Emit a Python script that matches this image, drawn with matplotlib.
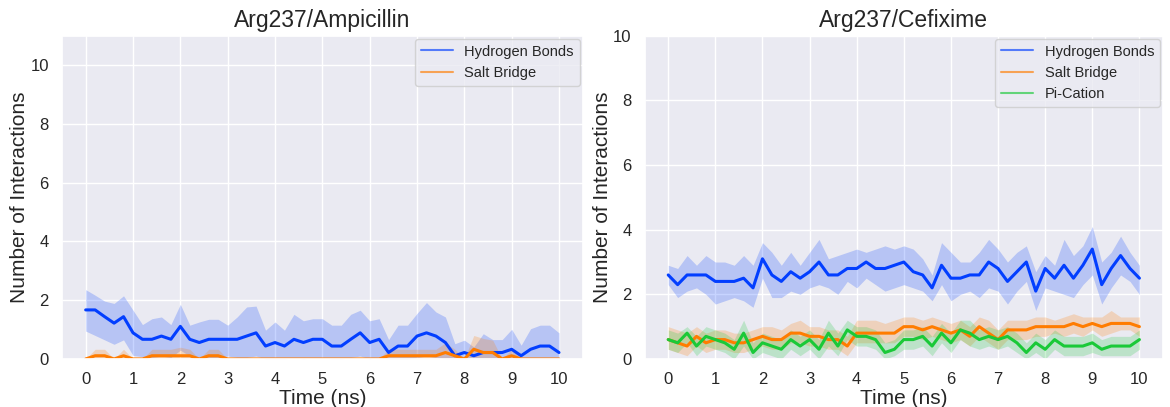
import numpy as np
import matplotlib.pyplot as plt
import seaborn as sns
from matplotlib.lines import Line2D

# time axis (ns), frames every 0.2 ns
time_ns = np.round(np.arange(0, 10.01, 0.2), 1)

# ---- Arg237 / Ampicillin ----
amp_hbond = [1.67, 1.67, 1.44, 1.22, 1.44, 0.89, 0.67, 0.67, 0.78, 0.67,
             1.11, 0.67, 0.56, 0.67, 0.67, 0.67, 0.67, 0.78, 0.89, 0.44,
             0.56, 0.44, 0.67, 0.56, 0.67, 0.67, 0.44, 0.44, 0.67, 0.89,
             0.56, 0.67, 0.22, 0.44, 0.44, 0.78, 0.89, 0.78, 0.56, 0.11,
             0.22, 0.11, 0.22, 0.22, 0.22, 0.33, 0.11, 0.33, 0.44, 0.44, 0.22]
amp_hbond_hi = [2.36, 2.17, 1.97, 1.89, 2.15, 1.66, 1.17, 1.37, 1.43, 1.17,
                1.86, 1.15, 1.26, 1.35, 1.35, 1.15, 1.43, 1.77, 1.80, 0.98,
                1.26, 0.98, 1.52, 1.30, 1.37, 1.37, 1.15, 1.15, 1.52, 1.66,
                1.30, 1.37, 0.66, 1.15, 1.15, 1.55, 1.92, 1.60, 1.43, 0.52,
                0.64, 0.41, 0.86, 0.66, 0.66, 1.01, 0.47, 1.03, 1.15, 1.15, 0.89]
amp_hbond_lo = [0.95, 0.80, 0.65, 0.50, 0.65, 0.12, 0.08, 0.05, 0.10, 0.05,
                0.30, 0.10, 0.00, 0.05, 0.05, 0.10, 0.05, 0.05, 0.10, 0.00,
                0.00, 0.00, 0.05, 0.00, 0.05, 0.05, 0.00, 0.00, 0.05, 0.10,
                0.00, 0.05, 0.00, 0.00, 0.00, 0.05, 0.10, 0.05, 0.00, 0.00,
                0.00, 0.00, 0.00, 0.00, 0.00, 0.00, 0.00, 0.00, 0.00, 0.00, 0.00]
amp_salt = [0.00, 0.11, 0.11, 0.00, 0.11, 0.00, 0.00, 0.11, 0.11, 0.11,
            0.11, 0.11, 0.00, 0.11, 0.11, 0.00, 0.00, 0.00, 0.00, 0.00,
            0.00, 0.00, 0.00, 0.00, 0.00, 0.00, 0.00, 0.00, 0.00, 0.00,
            0.00, 0.00, 0.11, 0.11, 0.11, 0.11, 0.11, 0.11, 0.22, 0.11,
            0.00, 0.33, 0.22, 0.22, 0.00, 0.11, 0.00, 0.00, 0.00, 0.00, 0.00]
amp_salt_hi = [0.00, 0.33, 0.33, 0.00, 0.33, 0.00, 0.00, 0.33, 0.33, 0.33,
               0.40, 0.33, 0.00, 0.33, 0.33, 0.00, 0.00, 0.00, 0.00, 0.00,
               0.00, 0.00, 0.00, 0.00, 0.00, 0.00, 0.00, 0.00, 0.00, 0.00,
               0.00, 0.00, 0.33, 0.33, 0.33, 0.33, 0.33, 0.33, 0.55, 0.33,
               0.00, 0.80, 0.70, 0.64, 0.00, 0.33, 0.00, 0.00, 0.00, 0.00, 0.00]
amp_salt_lo = [0.0] * 51

# ---- Arg237 / Cefixime ----
cef_hbond = [2.6, 2.3, 2.6, 2.6, 2.6, 2.4, 2.4, 2.4, 2.5, 2.2,
             3.1, 2.6, 2.4, 2.7, 2.5, 2.7, 3.0, 2.6, 2.6, 2.8,
             2.8, 3.0, 2.8, 2.8, 2.9, 3.0, 2.7, 2.6, 2.2, 2.9,
             2.5, 2.5, 2.6, 2.6, 3.0, 2.8, 2.4, 2.7, 3.0, 2.1,
             2.8, 2.5, 2.9, 2.5, 2.9, 3.4, 2.3, 2.8, 3.2, 2.8, 2.5]
cef_hbond_hi = [2.9, 2.8, 3.2, 2.9, 3.2, 3.0, 3.0, 2.9, 3.2, 2.9,
                3.6, 3.3, 2.9, 3.3, 2.9, 3.3, 3.7, 3.1, 3.2, 3.3,
                3.4, 3.3, 3.4, 3.5, 3.4, 3.5, 3.4, 3.1, 2.6, 3.6,
                3.3, 3.0, 3.0, 3.3, 3.7, 3.4, 3.0, 3.3, 3.5, 2.7,
                3.2, 2.9, 3.7, 3.2, 3.5, 4.1, 3.0, 3.3, 3.8, 3.3, 2.9]
cef_hbond_lo = [2.3, 1.9, 2.1, 2.2, 2.0, 1.7, 1.8, 1.9, 1.8, 1.6,
                2.5, 1.9, 1.9, 2.1, 2.0, 2.2, 2.3, 2.2, 2.0, 2.4,
                2.2, 2.5, 2.3, 2.1, 2.2, 2.3, 2.2, 2.1, 1.8, 2.3,
                1.8, 2.0, 2.1, 1.9, 2.2, 2.1, 1.7, 2.1, 2.4, 1.5,
                2.2, 2.1, 2.0, 1.9, 2.3, 2.6, 1.7, 2.2, 2.6, 2.4, 2.0]
cef_salt = [0.6, 0.5, 0.4, 0.7, 0.5, 0.6, 0.6, 0.5, 0.5, 0.6,
            0.7, 0.6, 0.6, 0.8, 0.8, 0.7, 0.7, 0.6, 0.6, 0.4,
            0.8, 0.8, 0.8, 0.8, 0.8, 1.0, 1.0, 0.9, 1.0, 0.9,
            0.8, 0.9, 0.7, 1.0, 0.8, 0.6, 0.9, 0.9, 0.9, 1.0,
            1.0, 1.0, 1.0, 1.1, 1.0, 1.1, 1.0, 1.1, 1.1, 1.1, 1.0]
cef_salt_hi = [1.0, 0.9, 0.8, 1.0, 0.8, 0.9, 0.9, 0.8, 0.8, 0.9,
               1.0, 1.0, 0.9, 1.1, 1.2, 1.0, 1.0, 0.9, 0.9, 0.7,
               1.2, 1.2, 1.2, 1.1, 1.2, 1.3, 1.3, 1.2, 1.3, 1.2,
               1.1, 1.2, 1.0, 1.3, 1.2, 0.9, 1.2, 1.2, 1.2, 1.3,
               1.3, 1.2, 1.3, 1.4, 1.3, 1.3, 1.3, 1.5, 1.3, 1.3, 1.3]
cef_salt_lo = [0.3, 0.2, 0.1, 0.4, 0.2, 0.3, 0.3, 0.2, 0.2, 0.3,
               0.4, 0.3, 0.3, 0.5, 0.5, 0.4, 0.4, 0.3, 0.3, 0.1,
               0.5, 0.5, 0.5, 0.5, 0.5, 0.7, 0.7, 0.6, 0.7, 0.6,
               0.5, 0.6, 0.4, 0.7, 0.5, 0.3, 0.6, 0.6, 0.6, 0.7,
               0.7, 0.8, 0.7, 0.8, 0.7, 0.9, 0.7, 0.8, 0.9, 0.9, 0.7]
cef_pication = [0.6, 0.5, 0.8, 0.4, 0.7, 0.6, 0.5, 0.3, 0.8, 0.2,
                0.5, 0.4, 0.3, 0.6, 0.4, 0.6, 0.3, 0.8, 0.4, 0.9,
                0.7, 0.7, 0.6, 0.2, 0.3, 0.6, 0.6, 0.7, 0.4, 0.8,
                0.5, 0.9, 0.8, 0.6, 0.7, 0.6, 0.7, 0.5, 0.2, 0.5,
                0.3, 0.6, 0.4, 0.4, 0.4, 0.5, 0.3, 0.4, 0.4, 0.4, 0.6]
cef_pication_hi = [0.9, 0.8, 1.0, 0.7, 1.0, 0.9, 0.8, 0.6, 1.2, 0.5,
                   0.8, 0.7, 0.6, 0.9, 0.7, 0.9, 0.6, 1.2, 0.8, 1.2,
                   1.0, 1.0, 0.9, 0.5, 0.6, 0.9, 0.9, 1.0, 0.7, 1.1,
                   0.8, 1.2, 1.2, 0.9, 1.0, 0.9, 1.0, 0.8, 0.5, 0.8,
                   0.6, 0.9, 0.7, 0.7, 0.7, 0.8, 0.6, 0.7, 0.7, 0.7, 0.9]
cef_pication_lo = [0.3, 0.2, 0.5, 0.1, 0.4, 0.3, 0.2, 0.0, 0.4, 0.0,
                   0.2, 0.1, 0.0, 0.3, 0.1, 0.3, 0.0, 0.4, 0.1, 0.6,
                   0.4, 0.4, 0.3, 0.0, 0.1, 0.3, 0.3, 0.4, 0.1, 0.5,
                   0.2, 0.6, 0.4, 0.3, 0.4, 0.3, 0.4, 0.2, 0.0, 0.2,
                   0.0, 0.3, 0.1, 0.1, 0.1, 0.2, 0.1, 0.1, 0.1, 0.1, 0.3]

sns.set_theme(style='darkgrid')
plt.rcParams['font.family'] = ['Liberation Sans', 'DejaVu Sans']

colors = sns.color_palette('bright')
c_hb, c_sb, c_pc = colors[0], colors[1], colors[2]

fig = plt.figure(figsize=(11.7, 4.07), dpi=100)
ax1 = fig.add_axes([0.053, 0.118, 0.445, 0.794])
ax2 = fig.add_axes([0.551, 0.118, 0.443, 0.794])

panels = [
    (ax1, 'Arg237/Ampicillin', 11, [
        ('Hydrogen Bonds', amp_hbond, amp_hbond_lo, amp_hbond_hi, c_hb),
        ('Salt Bridge', amp_salt, amp_salt_lo, amp_salt_hi, c_sb),
    ]),
    (ax2, 'Arg237/Cefixime', 10, [
        ('Hydrogen Bonds', cef_hbond, cef_hbond_lo, cef_hbond_hi, c_hb),
        ('Salt Bridge', cef_salt, cef_salt_lo, cef_salt_hi, c_sb),
        ('Pi-Cation', cef_pication, cef_pication_lo, cef_pication_hi, c_pc),
    ]),
]

for ax, title, ymax, series in panels:
    handles = []
    for label, mean, lo, hi, col in series:
        ax.fill_between(time_ns, lo, hi, color=col, alpha=0.22, linewidth=0)
        ax.plot(time_ns, mean, color=col, linewidth=2.2)
        handles.append(Line2D([0], [0], color=col, lw=1.5, alpha=0.65, label=label))
    ax.set_xlim(-0.5, 10.5)
    ax.set_ylim(0, ymax)
    ax.set_xticks(range(0, 11))
    ax.set_yticks(range(0, 11, 2))
    ax.tick_params(labelsize=12)
    ax.set_title(title, fontsize=16.5)
    ax.set_xlabel('Time (ns)', fontsize=15, labelpad=1)
    ax.set_ylabel('Number of Interactions', fontsize=15, labelpad=1)
    ax.legend(handles=handles, loc='upper right', fontsize=10.5,
              borderaxespad=0.2, handlelength=2.2)

plt.savefig('out.png', dpi=100)
